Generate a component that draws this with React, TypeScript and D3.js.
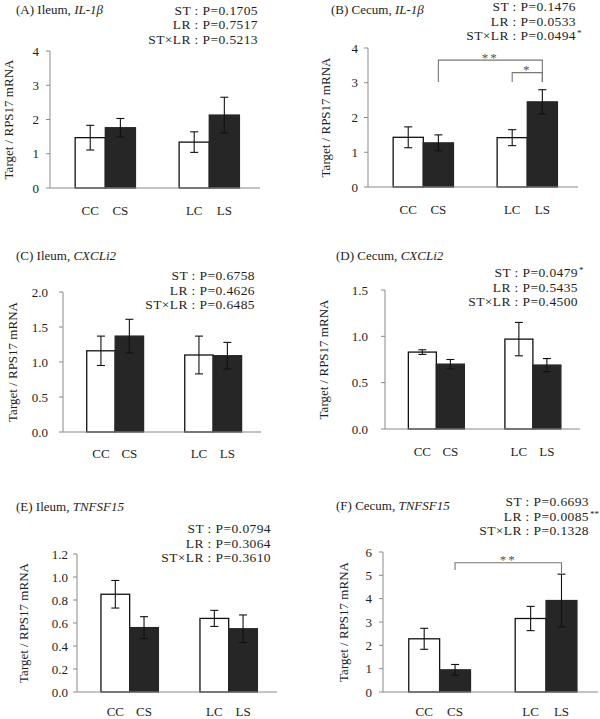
import React from "react";
import * as d3 from "d3";

// ---------- data ----------
const categories = ["CC", "CS", "LC", "LS"];
const pairGroups = ["C", "L"];
const treatments = ["ctrl", "stress"];

const panelLetters = ["A", "B", "C", "D", "E", "F"];
const tissues = ["Ileum", "Cecum", "Ileum", "Cecum", "Ileum", "Cecum"];
const genes = ["IL-1β", "IL-1β", "CXCLi2", "CXCLi2", "TNFSF15", "TNFSF15"];

const ileumIL1bMean = [1.47, 1.76, 1.34, 2.13];
const ileumIL1bSE = [0.36, 0.27, 0.3, 0.52];
const cecumIL1bMean = [1.43, 1.27, 1.42, 2.45];
const cecumIL1bSE = [0.3, 0.23, 0.23, 0.35];
const ileumCXCLi2Mean = [1.16, 1.37, 1.1, 1.09];
const ileumCXCLi2SE = [0.21, 0.24, 0.27, 0.19];
const cecumCXCLi2Mean = [0.83, 0.7, 0.97, 0.69];
const cecumCXCLi2SE = [0.025, 0.05, 0.18, 0.07];
const ileumTNFSF15Mean = [0.85, 0.56, 0.64, 0.55];
const ileumTNFSF15SE = [0.12, 0.095, 0.07, 0.12];
const cecumTNFSF15Mean = [2.28, 0.95, 3.15, 3.92];
const cecumTNFSF15SE = [0.45, 0.23, 0.52, 1.13];

const yMaxes = [4, 4, 2, 1.5, 1.2, 6];
const yTickValues = [
  [0, 1, 2, 3, 4],
  [0, 1, 2, 3, 4],
  [0, 0.5, 1.0, 1.5, 2.0],
  [0, 0.5, 1.0, 1.5],
  [0, 0.2, 0.4, 0.6, 0.8, 1.0, 1.2],
  [0, 1, 2, 3, 4, 5, 6],
];
const yTickFormats = ["d", "d", ".1f", ".1f", ".1f", "d"];

const statLabels = ["ST", "LR", "ST×LR"];
const statP = [
  ["0.1705", "0.7517", "0.5213"],
  ["0.1476", "0.0533", "0.0494"],
  ["0.6758", "0.4626", "0.6485"],
  ["0.0479", "0.5435", "0.4500"],
  ["0.0794", "0.3064", "0.3610"],
  ["0.6693", "0.0085", "0.1328"],
];
const statStars = [
  ["", "", ""],
  ["", "", "*"],
  ["", "", ""],
  ["*", "", ""],
  ["", "", ""],
  ["", "**", ""],
];

// significance brackets: [panel, from category, to category, level, left leg end, right leg end, label]
const brackets: [number, string, string, number, number, number, string][] = [
  [1, "CS", "LS", 3.65, 3.02, 3.02, "**"],
  [1, "LC", "LS", 3.29, 3.02, 3.02, "*"],
  [5, "CS", "LS", 5.54, 5.23, 5.1, "**"],
];

// ---------- layout (pixels) ----------
const layouts = [
  { x0: 50, x1: 260, y0: 188, yTop: 51, yLabX: 8, tGap: 11, titleX: 16, titleY: 14, statX: 258, statY: 14.5, catDy: 27 },
  { x0: 368, x1: 578, y0: 187, yTop: 48, yLabX: 325, tGap: 10, titleX: 331, titleY: 14, statX: 576, statY: 11, catDy: 27 },
  { x0: 63, x1: 261, y0: 432, yTop: 292, yLabX: 12, tGap: 15, titleX: 16, titleY: 260, statX: 255, statY: 280, catDy: 26 },
  { x0: 385, x1: 580, y0: 429, yTop: 290, yLabX: 323, tGap: 17, titleX: 336, titleY: 260, statX: 578, statY: 277, catDy: 27 },
  { x0: 77, x1: 277, y0: 692, yTop: 554, yLabX: 23, tGap: 9, titleX: 16, titleY: 511, statX: 271, statY: 533, catDy: 23.5 },
  { x0: 383, x1: 598, y0: 692, yTop: 552, yLabX: 343, tGap: 11, titleX: 336, titleY: 510, statX: 589, statY: 506, catDy: 23.5 },
];

const means = [ileumIL1bMean, cecumIL1bMean, ileumCXCLi2Mean, cecumCXCLi2Mean, ileumTNFSF15Mean, cecumTNFSF15Mean];
const ses = [ileumIL1bSE, cecumIL1bSE, ileumCXCLi2SE, cecumCXCLi2SE, ileumTNFSF15SE, cecumTNFSF15SE];

const FONT = '"Liberation Serif", "Times New Roman", Times, serif';
const AXIS = "#8a8a8a";
const DARK = "#262626";
const TXT = "#1e1e1e";

function Panel({ i }: { i: number }) {
  const L = layouts[i];
  const y = d3.scaleLinear().domain([0, yMaxes[i]]).range([L.y0, L.yTop]);
  const xg = d3.scaleBand().domain(pairGroups).range([L.x0, L.x1]).paddingInner(0.42).paddingOuter(0.22).align(0.55);
  const xi = d3.scaleBand().domain(treatments).range([0, xg.bandwidth()]).padding(0);
  const catX = (c: string) => (xg(c[0]) as number) + (xi(c[1] === "C" ? "ctrl" : "stress") as number);
  const bw = xi.bandwidth();
  const fmt = d3.format(yTickFormats[i]);
  const lineH = 14.6;
  const capW = 4;

  return (
    <g>
      {/* title */}
      <text x={L.titleX} y={L.titleY} fontSize={13} fill={TXT}>
        {`(${panelLetters[i]}) ${tissues[i]}, `}
        <tspan fontStyle="italic">{genes[i]}</tspan>
      </text>
      {/* stats */}
      {statLabels.map((s, k) => (
        <text key={s} x={L.statX} y={L.statY + k * lineH} fontSize={13.5} textAnchor="end" letterSpacing={0.4} fill={TXT}>
          {`${s} : P=${statP[i][k]}`}
        </text>
      ))}
      {statLabels.map((s, k) =>
        statStars[i][k] ? (
          <text key={"st" + s} x={L.statX + 1} y={L.statY + k * lineH - 4} fontSize={9} fill={TXT}>
            {statStars[i][k]}
          </text>
        ) : null
      )}
      {/* y axis */}
      <line x1={L.x0} x2={L.x0} y1={y(0)} y2={y(yMaxes[i])} stroke={AXIS} strokeWidth={1} />
      {yTickValues[i].map((t) => (
        <g key={t}>
          <line x1={L.x0 - 4} x2={L.x0} y1={y(t)} y2={y(t)} stroke={AXIS} strokeWidth={1} />
          <text x={L.x0 - L.tGap} y={y(t)} dy="0.35em" fontSize={13} textAnchor="end" fill={TXT}>
            {fmt(t)}
          </text>
        </g>
      ))}
      <text
        transform={`translate(${L.yLabX},${(L.y0 + L.yTop) / 2}) rotate(-90)`}
        fontSize={13}
        textAnchor="middle"
        dy="0.35em"
        fill={TXT}
      >
        Target / RPS17 mRNA
      </text>
      {/* bars */}
      {categories.map((c, k) => {
        const dark = c[1] === "S";
        return (
          <rect
            key={c}
            x={catX(c)}
            y={y(means[i][k])}
            width={bw}
            height={y(0) - y(means[i][k])}
            fill={dark ? DARK : "#fff"}
            stroke={dark ? DARK : "#111"}
            strokeWidth={1.3}
          />
        );
      })}
      {/* x axis */}
      <line x1={L.x0} x2={L.x1} y1={y(0)} y2={y(0)} stroke={AXIS} strokeWidth={1.2} />
      {/* error bars */}
      {categories.map((c, k) => {
        const cx = catX(c) + bw / 2;
        const hi = y(means[i][k] + ses[i][k]);
        const lo = y(means[i][k] - ses[i][k]);
        return (
          <g key={"e" + c} stroke="#111" strokeWidth={1.1}>
            <line x1={cx} x2={cx} y1={hi} y2={lo} />
            <line x1={cx - capW} x2={cx + capW} y1={hi} y2={hi} />
            <line x1={cx - capW} x2={cx + capW} y1={lo} y2={lo} />
          </g>
        );
      })}
      {/* category labels */}
      {categories.map((c) => (
        <text key={"l" + c} x={catX(c) + bw / 2} y={L.y0 + L.catDy} fontSize={13} textAnchor="middle" fill={TXT}>
          {c}
        </text>
      ))}
      {/* brackets */}
      {brackets
        .filter((b) => b[0] === i)
        .map((b, k) => {
          const xa = catX(b[1]) + bw / 2;
          const xb = catX(b[2]) + bw / 2;
          const yl = y(b[3]);
          return (
            <g key={"b" + k}>
              <path d={`M${xa},${y(b[4])}V${yl}H${xb}V${y(b[5])}`} fill="none" stroke="#777" strokeWidth={1.1} />
              <text x={(xa + xb) / 2} y={yl + 1.5} fontSize={13} textAnchor="middle" fill="#555" letterSpacing={2}>
                {b[6]}
              </text>
            </g>
          );
        })}
    </g>
  );
}

export default function App() {
  return (
    <svg
      width={600}
      height={719}
      style={{ position: "absolute", left: 0, top: 0, background: "#fff", fontFamily: FONT }}
    >
      <rect width={600} height={719} fill="#fff" />
      {panelLetters.map((_, i) => (
        <Panel key={i} i={i} />
      ))}
    </svg>
  );
}
